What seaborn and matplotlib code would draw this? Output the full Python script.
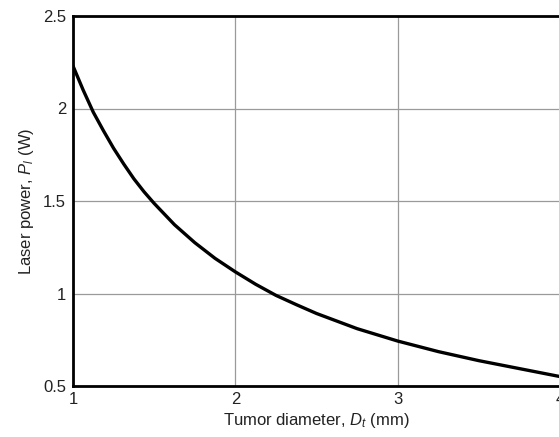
import matplotlib
matplotlib.use("Agg")
import matplotlib.pyplot as plt
import seaborn as sns
import pandas as pd

# Data
diameter_mm = [1.000, 1.0625, 1.125, 1.1875, 1.250, 1.3125, 1.375, 1.4375, 1.500,
               1.625, 1.750, 1.875, 2.000, 2.125, 2.25, 2.375, 2.50,
               2.75, 3.00, 3.25, 3.50, 3.75, 4.00]
power_w = [2.23, 2.10, 1.98, 1.88, 1.785, 1.70, 1.62, 1.55, 1.487,
           1.372, 1.275, 1.19, 1.117, 1.05, 0.99, 0.94, 0.892,
           0.81, 0.743, 0.686, 0.637, 0.594, 0.551]
x_ticks = [1, 2, 3, 4]
y_ticks = [0.5, 1, 1.5, 2, 2.5]
y_tick_labels = ["0.5", "1", "1.5", "2", "2.5"]

sns.set_style("whitegrid")
plt.rcParams['font.family'] = ['Liberation Sans', 'DejaVu Sans']
plt.rcParams['mathtext.fontset'] = 'custom'
plt.rcParams['mathtext.it'] = 'Liberation Sans:italic'
plt.rcParams['mathtext.rm'] = 'Liberation Sans'

df = pd.DataFrame({"D": diameter_mm, "P": power_w})

fig = plt.figure(figsize=(5.59, 4.37), dpi=100)
ax = fig.add_axes([73/559, 51/437, 487/559, 370/437])
ax.set_facecolor("white")

sns.lineplot(data=df, x="D", y="P", ax=ax, color="black", linewidth=2.4)

ax.set_xlim(1, 4)
ax.set_ylim(0.5, 2.5)
ax.set_xticks(x_ticks)
ax.set_yticks(y_ticks)
ax.set_yticklabels(y_tick_labels)
ax.grid(True, color="#9a9a9a", linewidth=0.9)
ax.tick_params(axis="x", length=0, labelsize=12, colors="#222222", pad=4)
ax.tick_params(axis="y", length=0, labelsize=12, colors="#222222", pad=5)

for side in ["left", "bottom", "top"]:
    ax.spines[side].set_visible(True)
    ax.spines[side].set_color("black")
    ax.spines[side].set_linewidth(2.0)
ax.spines["right"].set_visible(False)

ax.set_xlabel(r"Tumor diameter, $D_t$ (mm)", fontsize=12, color="#222222", labelpad=3)
ax.set_ylabel(r"Laser power, $P_l$ (W)", fontsize=12, color="#222222", labelpad=5)

fig.savefig("out.png", dpi=100)
